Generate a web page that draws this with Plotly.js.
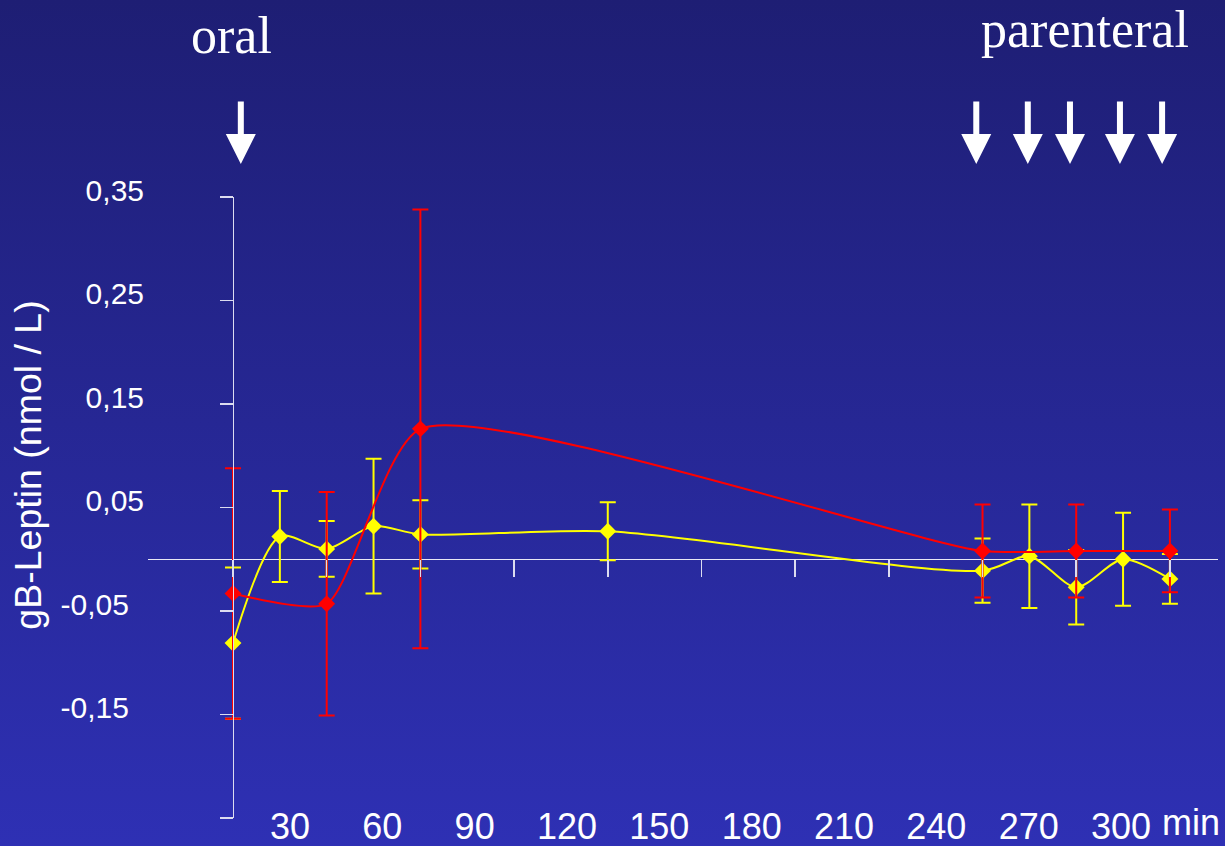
<!DOCTYPE html>
<html><head><meta charset="utf-8">
<script src="https://cdn.plot.ly/plotly-3.0.1.min.js"></script>
<style>
html,body{margin:0;padding:0;width:1225px;height:846px;overflow:hidden;background:linear-gradient(to bottom,#1e1e74 0%,#2e30b4 100%);}
#chart{width:1225px;height:846px;}
</style></head><body><div id="chart"></div>
<script>
// time points (min)
const yellowTimes = [0, 15, 30, 45, 60, 120, 240, 255, 270, 285, 300];
const yellowMean  = [-0.081, 0.022, 0.010, 0.032, 0.024, 0.027, -0.011, 0.003, -0.027, 0.000, -0.019];
const yellowErr   = [0.073, 0.044, 0.027, 0.065, 0.033, 0.028, 0.031, 0.050, 0.036, 0.045, 0.024];

const redTimes = [0, 30, 60, 240, 270, 300];
const redMean  = [-0.033, -0.043, 0.126, 0.008, 0.008, 0.008];
const redErr   = [0.121, 0.108, 0.212, 0.045, 0.045, 0.040];

// axis labels
const xLabelVals = [30, 60, 90, 120, 150, 180, 210, 240, 270, 300];
const xLabelText = ['30', '60', '90', '120', '150', '180', '210', '240', '270', '300'];
const yTickVals  = [-0.25, -0.15, -0.05, 0.05, 0.15, 0.25, 0.35];
const yLabelVals = [-0.15, -0.05, 0.05, 0.15, 0.25, 0.35];
const yLabelText = ['-0,15\u2002', '-0,05\u2002', '0,05', '0,15', '0,25', '0,35'];

// dose arrows (min)
const oralDose = [2.5];
const parenteralDoses = [238, 254.5, 268, 284, 297.5];

const traces = [
  {
    x: yellowTimes, y: yellowMean, type: 'scatter', mode: 'lines+markers',
    line: {color: '#ffff00', width: 2, shape: 'spline', smoothing: 0.8},
    marker: {symbol: 'diamond', size: 13, color: '#ffff00'},
    error_y: {type: 'data', array: yellowErr, visible: true, color: '#ffff00', thickness: 2, width: 8},
    cliponaxis: false, hoverinfo: 'x+y'
  },
  {
    x: redTimes, y: redMean, type: 'scatter', mode: 'lines+markers',
    line: {color: '#ff0000', width: 2, shape: 'spline', smoothing: 0.6},
    marker: {symbol: 'diamond', size: 13, color: '#ff0000'},
    error_y: {type: 'data', array: redErr, visible: true, color: '#ff0000', thickness: 2, width: 8},
    cliponaxis: false, hoverinfo: 'x+y'
  },
  {x: [], y: [], xaxis: 'x2', yaxis: 'y2', type: 'scatter', mode: 'markers', showlegend: false, hoverinfo: 'skip'}
];

const arrowBase = {xref: 'x', yref: 'paper', y: 1.0531, ax: 0, ay: -64, text: '', showarrow: true,
  arrowhead: 2, arrowsize: 1, arrowwidth: 6, arrowcolor: '#ffffff', standoff: 0};
const annotations = [];
oralDose.concat(parenteralDoses).forEach(t => annotations.push(Object.assign({}, arrowBase, {x: t})));
annotations.push({xref: 'paper', yref: 'paper', x: 0.0776, y: 1.260, xanchor: 'center', yanchor: 'middle',
  text: 'oral', showarrow: false, font: {family: 'Liberation Serif, Times New Roman, serif', size: 52, color: '#ffffff'}});
annotations.push({xref: 'paper', yref: 'paper', x: 0.8757, y: 1.2705, xanchor: 'center', yanchor: 'middle',
  text: 'parenteral', showarrow: false, font: {family: 'Liberation Serif, Times New Roman, serif', size: 52, color: '#ffffff'}});
annotations.push({xref: 'paper', yref: 'paper', x: -0.1125, y: 0.5684, xanchor: 'center', yanchor: 'middle',
  text: 'gB-Leptin (nmol / L)', textangle: -90, showarrow: false, font: {size: 37.5, color: '#ffffff'}});
annotations.push({xref: 'paper', yref: 'paper', x: 0.9458, y: -0.0065, xanchor: 'left', yanchor: 'middle',
  text: 'min', showarrow: false, font: {size: 36, color: '#ffffff'}});

const layout = {
  width: 1225, height: 846,
  margin: {l: 148, r: 7, t: 197, b: 28, pad: 0},
  paper_bgcolor: 'rgba(0,0,0,0)', plot_bgcolor: 'rgba(0,0,0,0)',
  showlegend: false,
  font: {family: 'Liberation Sans, Arial, sans-serif', color: '#ffffff'},
  xaxis: {range: [-27.22, 315.4], anchor: 'free', position: 0.41667, showline: false, showgrid: false,
    zeroline: false, ticks: 'outside', ticklen: 17, tickwidth: 1.5, tickcolor: '#dcdcf0',
    tickmode: 'linear', tick0: 0, dtick: 30, showticklabels: false, fixedrange: true},
  xaxis2: {overlaying: 'x', range: [-16.11, 331.5], anchor: 'free', position: 0.0255, showline: false,
    showgrid: false, zeroline: false, ticks: '', tickmode: 'array', tickvals: xLabelVals, ticktext: xLabelText,
    tickfont: {size: 36, color: '#ffffff'}, fixedrange: true},
  yaxis: {range: [-0.25, 0.35], anchor: 'free', position: 0.0794, showline: true, linecolor: '#dcdcf0',
    linewidth: 1.5, ticks: 'outside', ticklen: 13, tickwidth: 1.5, tickcolor: '#dcdcf0', tickmode: 'array',
    tickvals: yTickVals, showticklabels: false, showgrid: false, zeroline: true, zerolinecolor: '#e8e8f4',
    zerolinewidth: 1.5, fixedrange: true},
  yaxis2: {overlaying: 'y', range: [-0.25, 0.35], anchor: 'free', position: 0, showline: false, showgrid: false,
    zeroline: false, ticks: '', tickmode: 'array', tickvals: yLabelVals, ticktext: yLabelText,
    tickfont: {size: 30, color: '#ffffff'}, ticklabelshift: -7, ticklabelstandoff: 4, fixedrange: true},
  annotations: annotations
};

Plotly.newPlot('chart', traces, layout, {displayModeBar: false, staticPlot: true});
</script>
</body></html>
